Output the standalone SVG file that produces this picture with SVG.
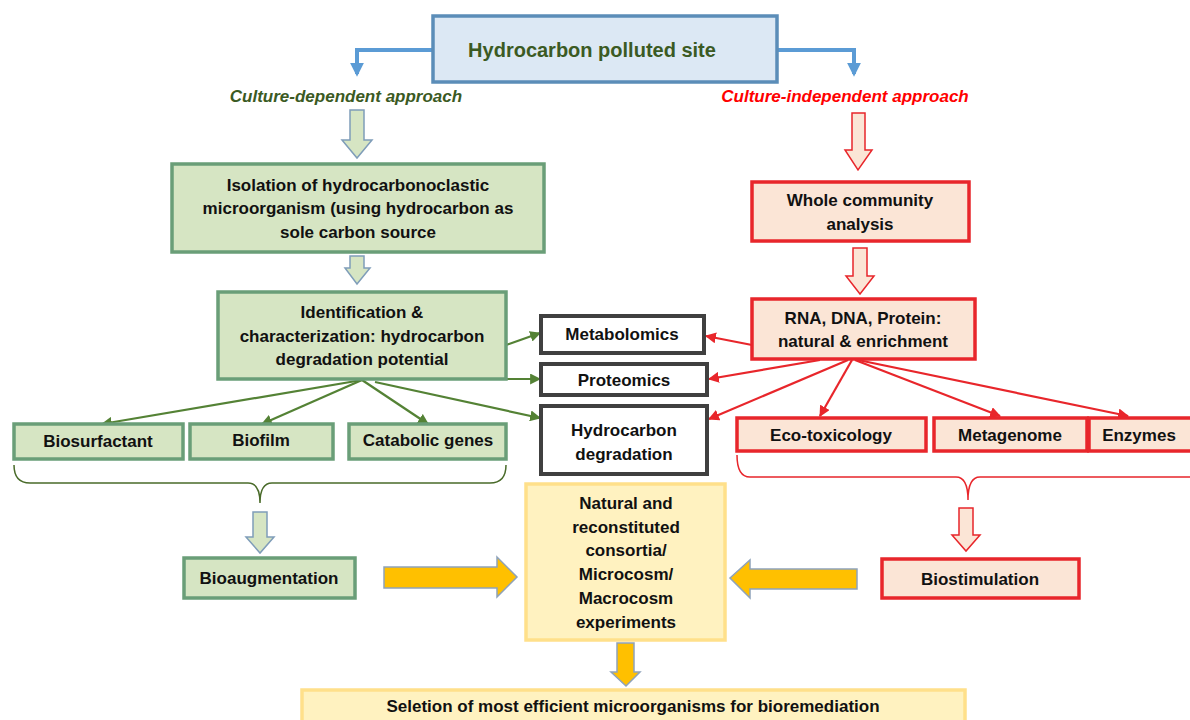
<svg xmlns="http://www.w3.org/2000/svg" width="1190" height="720" viewBox="0 0 1190 720">
<style>
text{font-family:"Liberation Sans",Arial,sans-serif;font-weight:bold;font-size:17px;fill:#111;text-anchor:middle}
.gbox{fill:#d6e5c3;stroke:#6a9e78;stroke-width:3.5}
.rbox{fill:#fbe5d6;stroke:#e8262b;stroke-width:3.5}
.kbox{fill:#fff;stroke:#404040;stroke-width:4}
.ybox{fill:#fff2c0;stroke:#ffe08a;stroke-width:3.5}
.gc{stroke:#548235;stroke-width:2.2;fill:none;marker-end:url(#ga)}
.rc{stroke:#e8262b;stroke-width:2.2;fill:none;marker-end:url(#ra)}
.bc{stroke:#5b9bd5;stroke-width:4;fill:none;marker-end:url(#ba)}
.gba{fill:#d6e5c3;stroke:#7f9db9;stroke-width:1.5}
.rba{fill:#fbe5d6;stroke:#e8262b;stroke-width:1.5}
.oba{fill:#ffc000;stroke:#8ea2ba;stroke-width:1.5}
</style>
<defs>
<marker id="ga" viewBox="0 0 10 10" refX="9" refY="5" markerWidth="5" markerHeight="5" orient="auto" markerUnits="strokeWidth"><path d="M0,0L10,5L0,10z" fill="#548235"/></marker>
<marker id="ra" viewBox="0 0 10 10" refX="9" refY="5" markerWidth="5" markerHeight="5" orient="auto" markerUnits="strokeWidth"><path d="M0,0L10,5L0,10z" fill="#e8262b"/></marker>
<marker id="ba" viewBox="0 0 10 10" refX="8" refY="5" markerWidth="3.5" markerHeight="3.5" orient="auto" markerUnits="strokeWidth"><path d="M0,0L10,5L0,10z" fill="#5b9bd5"/></marker>
</defs>
<rect width="1190" height="720" fill="#fff"/>

<g id="connectors">
<path class="bc" d="M433,50H357V74"/>
<path class="bc" d="M777,50H854V74"/>
<path class="gc" d="M506,345L540,333"/>
<path class="gc" d="M506,379L540,379"/>
<path class="gc" d="M362,380L102,424"/>
<path class="gc" d="M362,380L262,424"/>
<path class="gc" d="M362,380L428,424"/>
<path class="gc" d="M375,382L540,418"/>
<path class="rc" d="M752,345L706,336"/>
<path class="rc" d="M820,360L709,379"/>
<path class="rc" d="M848,360L709,419"/>
<path class="rc" d="M852,360L820,416"/>
<path class="rc" d="M855,360L1000,416"/>
<path class="rc" d="M858,360L1128,416"/>
<path d="M14,465Q14,483 30,483L248,483Q260,483 260,503Q260,483 272,483L490,483Q506,483 506,465" fill="none" stroke="#4a6b2a" stroke-width="1.5"/>
<path d="M737,455Q737,477 750,477L956,477Q968,477 968,500Q968,477 980,477L1190,477" fill="none" stroke="#e8262b" stroke-width="1.5"/>
<path class="gba" d="M350,110H364V140H372L357,158L342,140H350Z"/>
<path class="rba" d="M852,113H865V150H872L858,170L845,150H852Z"/>
<path class="gba" d="M350,256H364V268H370L357,284L345,268H350Z"/>
<path class="rba" d="M853,248H867V276H874L860,294L846,276H853Z"/>
<path class="gba" d="M253,512H267V537H274L260,553L246,537H253Z"/>
<path class="rba" d="M959,508H973V535H980L966,551L952,535H959Z"/>
<path class="oba" d="M384,567H497V557L517,577L497,597V588H384Z"/>
<path class="oba" d="M857,569H750V560L730,578L750,598V589H857Z"/>
<path class="oba" d="M617,643H634V672H640L626,686L611,672H617Z"/>
</g>

<g id="n-site"><rect x="433" y="16" width="344" height="66" fill="#dce8f4" stroke="#5b8db8" stroke-width="3.5"/><text x="592" y="57" style="font-size:20px;fill:#3b5a23">Hydrocarbon polluted site</text></g>
<g id="l-dep"><text x="346" y="102" style="font-style:italic;fill:#3b5a23">Culture-dependent approach</text></g>
<g id="l-indep"><text x="845" y="102" style="font-style:italic;fill:#ff0000">Culture-independent approach</text></g>

<g id="n-isolation"><rect class="gbox" x="172" y="164" width="372" height="88"/>
<text x="358" y="191">Isolation of hydrocarbonoclastic</text>
<text x="358" y="214">microorganism (using hydrocarbon as</text>
<text x="358" y="238">sole carbon source</text></g>

<g id="n-ident"><rect class="gbox" x="218" y="292" width="288" height="87"/>
<text x="362" y="318">Identification &amp;</text>
<text x="362" y="342">characterization: hydrocarbon</text>
<text x="362" y="365">degradation potential</text></g>

<g id="n-whole"><rect class="rbox" x="752" y="182" width="217" height="59"/>
<text x="860" y="206">Whole community</text>
<text x="860" y="230">analysis</text></g>

<g id="n-rna"><rect class="rbox" x="752" y="299" width="223" height="60"/>
<text x="863" y="324">RNA, DNA, Protein:</text>
<text x="863" y="347">natural &amp; enrichment</text></g>

<g id="n-metab"><rect class="kbox" x="541" y="316" width="163" height="37"/><text x="622" y="340">Metabolomics</text></g>
<g id="n-prot"><rect class="kbox" x="541" y="364" width="166" height="31"/><text x="624" y="386">Proteomics</text></g>
<g id="n-hdeg"><rect class="kbox" x="541" y="406" width="166" height="68"/><text x="624" y="436">Hydrocarbon</text><text x="624" y="460">degradation</text></g>

<g id="n-biosurf"><rect class="gbox" x="14" y="424" width="169" height="35"/><text x="98" y="447">Biosurfactant</text></g>
<g id="n-biofilm"><rect class="gbox" x="190" y="424" width="143" height="35"/><text x="261" y="446">Biofilm</text></g>
<g id="n-catab"><rect class="gbox" x="349" y="424" width="157" height="35"/><text x="428" y="446">Catabolic genes</text></g>

<g id="n-eco"><rect class="rbox" x="737" y="418" width="189" height="33"/><text x="831" y="441">Eco-toxicology</text></g>
<g id="n-meta"><rect class="rbox" x="934" y="418" width="153" height="33"/><text x="1010" y="441">Metagenome</text></g>
<g id="n-enz"><rect class="rbox" x="1089" y="418" width="110" height="33"/><text x="1139" y="441">Enzymes</text></g>

<g id="n-consortia"><rect class="ybox" x="526" y="484" width="199" height="156"/>
<text x="626" y="509">Natural and</text>
<text x="626" y="533">reconstituted</text>
<text x="626" y="556">consortia/</text>
<text x="626" y="580">Microcosm/</text>
<text x="626" y="604">Macrocosm</text>
<text x="626" y="628">experiments</text></g>

<g id="n-bioaug"><rect class="gbox" x="184" y="558" width="171" height="40"/><text x="269" y="584">Bioaugmentation</text></g>
<g id="n-biostim"><rect class="rbox" x="882" y="559" width="197" height="39"/><text x="980" y="585">Biostimulation</text></g>

<g id="n-selection"><rect class="ybox" x="302" y="690" width="663" height="40"/><text x="633" y="712">Seletion of most efficient microorganisms for bioremediation</text></g>
</svg>
